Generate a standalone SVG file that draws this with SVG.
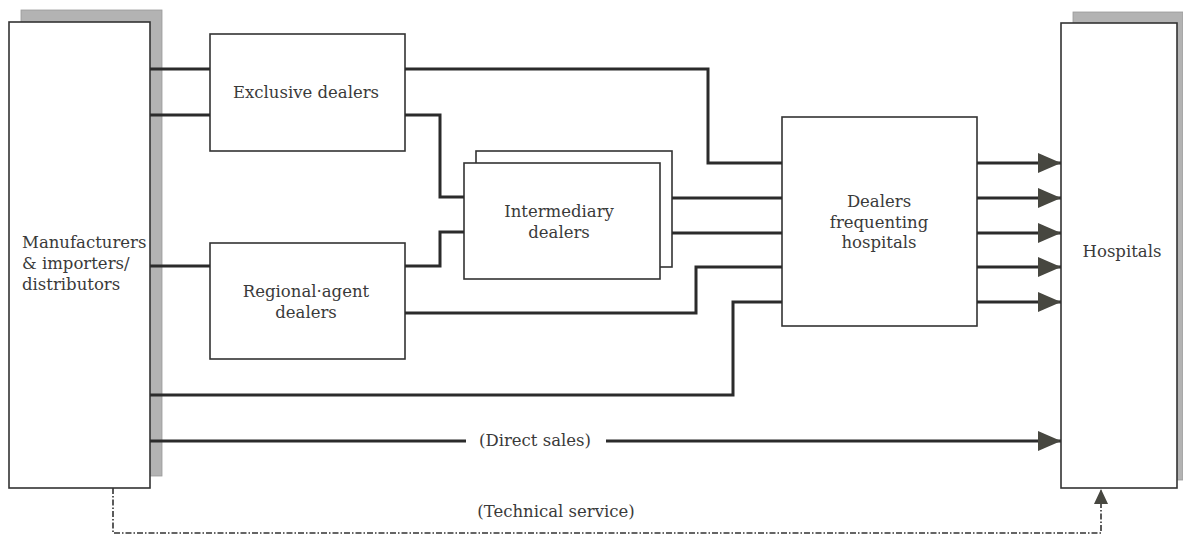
<svg xmlns="http://www.w3.org/2000/svg" width="1183" height="542" viewBox="0 0 1183 542">
<style>
.box{fill:#fff;stroke:#333;stroke-width:1.6}
.shadow{fill:#b3b3b3;stroke:#999;stroke-width:0.8}
.t{font-family:"DejaVu Serif","Liberation Serif",serif;font-size:16.5px;fill:#3a3a3a;text-anchor:middle}
.tl{font-family:"DejaVu Serif","Liberation Serif",serif;font-size:16.5px;fill:#3a3a3a;text-anchor:start}
.c{fill:none;stroke:#2b2b2b;stroke-width:3}
.d{fill:none;stroke:#333;stroke-width:1.6;stroke-dasharray:6 2 1.5 2}
</style>
<defs>
<marker id="arr" markerUnits="userSpaceOnUse" markerWidth="23" markerHeight="20" refX="23" refY="10" orient="auto">
<path d="M0,0 L23,10 L0,20 z" fill="#474740"/>
</marker>
<marker id="arrs" markerUnits="userSpaceOnUse" markerWidth="15" markerHeight="14" refX="15" refY="7" orient="auto">
<path d="M0,0 L15,7 L0,14 z" fill="#474740"/>
</marker>
</defs>
<g id="manufacturers">
<rect class="shadow" x="21" y="10" width="141" height="466"/>
<rect class="box" x="9" y="22" width="141" height="466"/>
<text class="tl" x="22" y="248">Manufacturers</text>
<text class="tl" x="22" y="269">&amp; importers/</text>
<text class="tl" x="22" y="290">distributors</text>
</g>
<g id="exclusive">
<rect class="box" x="210" y="34" width="195" height="117"/>
<text class="t" x="306" y="98">Exclusive dealers</text>
</g>
<g id="regional">
<rect class="box" x="210" y="243" width="195" height="116"/>
<text class="t" x="306" y="297">Regional·agent</text>
<text class="t" x="306" y="318">dealers</text>
</g>
<g id="intermediary">
<rect class="box" x="476" y="151" width="196" height="116"/>
<rect class="box" x="464" y="163" width="196" height="116"/>
<text class="t" x="559" y="217">Intermediary</text>
<text class="t" x="559" y="238">dealers</text>
</g>
<g id="frequenting">
<rect class="box" x="782" y="117" width="195" height="209"/>
<text class="t" x="879" y="207">Dealers</text>
<text class="t" x="879" y="228">frequenting</text>
<text class="t" x="879" y="248">hospitals</text>
</g>
<g id="hospitals">
<rect class="shadow" x="1073" y="12" width="110" height="468"/>
<rect class="box" x="1061" y="23" width="116" height="465"/>
<text class="t" x="1122" y="257">Hospitals</text>
</g>
<g id="connectors">
<path class="c" d="M150,69 H210"/>
<path class="c" d="M150,115 H210"/>
<path class="c" d="M150,266 H210"/>
<path class="c" d="M405,69 H708 V163 H782"/>
<path class="c" d="M405,115 H440 V197 H464"/>
<path class="c" d="M405,266 H440 V232 H464"/>
<path class="c" d="M672,198 H782"/>
<path class="c" d="M672,233 H782"/>
<path class="c" d="M405,313 H696 V267 H782"/>
<path class="c" d="M150,395 H733 V302 H782"/>
<path class="c" d="M977,163 H1061" marker-end="url(#arr)"/>
<path class="c" d="M977,198 H1061" marker-end="url(#arr)"/>
<path class="c" d="M977,233 H1061" marker-end="url(#arr)"/>
<path class="c" d="M977,267 H1061" marker-end="url(#arr)"/>
<path class="c" d="M977,302 H1061" marker-end="url(#arr)"/>
<path class="c" d="M150,441 H466"/>
<path class="c" d="M606,441 H1061" marker-end="url(#arr)"/>
<text class="t" x="535" y="446">(Direct sales)</text>
<path class="d" d="M113,488 V533 H1101 V489" marker-end="url(#arrs)"/>
<text class="t" x="556" y="517">(Technical service)</text>
</g>
</svg>
